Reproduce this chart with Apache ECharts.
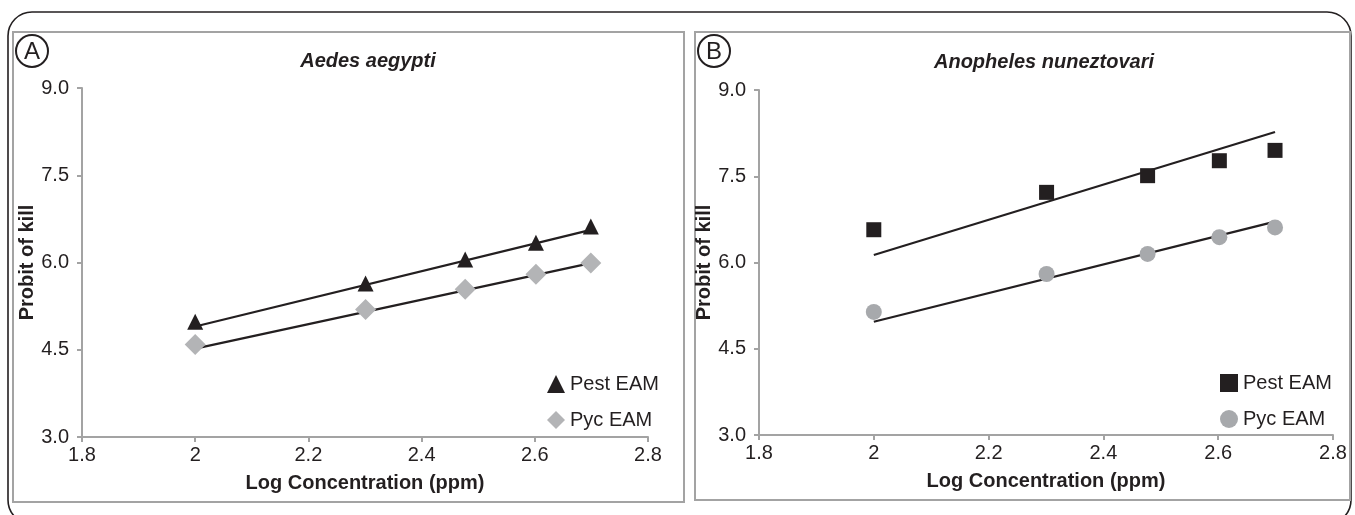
<!DOCTYPE html>
<html>
<head>
<meta charset="utf-8">
<script src="https://cdn.jsdelivr.net/npm/echarts@6/dist/echarts.min.js"></script>
<style>
  html, body { margin: 0; padding: 0; background: #fff; }
  #main { width: 1355px; height: 515px; }
</style>
</head>
<body>
<div id="main"></div>
<script>
// log10 of the tested concentrations (ppm)
var logConc = [2.0, 2.301, 2.477, 2.602, 2.699];

// panel A - Aedes aegypti
var aedesPest = [4.98, 5.64, 6.05, 6.34, 6.62];
var aedesPyc = [4.59, 5.19, 5.54, 5.80, 5.99];
// panel B - Anopheles nuneztovari
var anophPest = [6.57, 7.22, 7.51, 7.77, 7.95];
var anophPyc = [5.14, 5.80, 6.15, 6.44, 6.61];

// trend line end points
var fitX = [2.0, 2.699];
var aedesPestFit = [4.90, 6.56];
var aedesPycFit = [4.52, 5.99];
var anophPestFit = [6.13, 8.27];
var anophPycFit = [4.97, 6.71];

var xTicks = { min: 1.8, max: 2.8, interval: 0.2 };
var yTicks = { min: 3.0, max: 9.0, interval: 1.5 };

var FONT = '"Liberation Sans", Arial, Helvetica, sans-serif';
var INK = '#231f20';
var AXIS = '#a3a3a3';

function pairs(xs, ys) {
    return xs.map(function (x, i) { return [x, ys[i]]; });
}

function xAxis(idx) {
    return {
        type: 'value', gridIndex: idx,
        min: xTicks.min, max: xTicks.max, interval: xTicks.interval,
        name: 'Log Concentration (ppm)', nameLocation: 'middle', nameGap: 36,
        nameTextStyle: { fontFamily: FONT, fontSize: 20, fontWeight: 'bold', color: INK },
        axisLine: { show: true, onZero: false, lineStyle: { color: AXIS, width: 2 } },
        axisTick: { show: true, length: 5, lineStyle: { color: AXIS, width: 2 } },
        axisLabel: {
            margin: 8, fontFamily: FONT, fontSize: 20, color: INK,
            formatter: function (v) { return String(parseFloat(v.toFixed(1))); }
        },
        splitLine: { show: false }
    };
}

function yAxis(idx) {
    return {
        type: 'value', gridIndex: idx,
        min: yTicks.min, max: yTicks.max, interval: yTicks.interval,
        name: 'Probit of kill', nameLocation: 'middle', nameGap: 37,
        nameTextStyle: { fontFamily: FONT, fontSize: 20, fontWeight: 'bold', color: INK },
        axisLine: { show: true, onZero: false, lineStyle: { color: AXIS, width: 2 } },
        axisTick: { show: true, length: 5, lineStyle: { color: AXIS, width: 2 } },
        axisLabel: {
            margin: 13, fontFamily: FONT, fontSize: 20, color: INK,
            formatter: function (v) { return v.toFixed(1); }
        },
        splitLine: { show: false }
    };
}

function scatter(name, idx, data, symbol, size, color) {
    return {
        name: name, type: 'scatter', xAxisIndex: idx, yAxisIndex: idx,
        data: pairs(logConc, data), symbol: symbol, symbolSize: size,
        itemStyle: { color: color, opacity: 1 }, z: 3
    };
}

function fit(idx, ys) {
    return {
        type: 'line', xAxisIndex: idx, yAxisIndex: idx,
        data: pairs(fitX, ys), symbol: 'none', silent: true,
        lineStyle: { color: INK, width: 2.2 }, z: 2
    };
}

function legend(left, top, names) {
    return {
        data: names, orient: 'vertical', left: left, top: top,
        itemWidth: 18, itemHeight: 18, itemGap: 16,
        textStyle: { fontFamily: FONT, fontSize: 20, color: INK },
        formatter: function (n) { return n.split(':')[1]; }
    };
}

function circled(letter, cx, cy) {
    return [
        { type: 'circle', shape: { cx: cx, cy: cy, r: 16 },
          style: { fill: 'none', stroke: INK, lineWidth: 2 } },
        { type: 'text', x: cx, y: cy + 1,
          style: { text: letter, align: 'center', verticalAlign: 'middle',
                   font: '24px ' + FONT, fill: INK } }
    ];
}

var chart = echarts.init(document.getElementById('main'));

var options = {
    animation: false,
    backgroundColor: '#fff',
    grid: [
        { left: 82, top: 88, width: 566, height: 349 },
        { left: 759, top: 90, width: 574, height: 345 }
    ],
    xAxis: [xAxis(0), xAxis(1)],
    yAxis: [yAxis(0), yAxis(1)],
    legend: [
        legend(542, 369, ['A:Pest EAM', 'A:Pyc EAM']),
        legend(1215, 368, ['B:Pest EAM', 'B:Pyc EAM'])
    ],
    series: [
        fit(0, aedesPestFit),
        fit(0, aedesPycFit),
        scatter('A:Pest EAM', 0, aedesPest, 'triangle', 16, INK),
        scatter('A:Pyc EAM', 0, aedesPyc, 'diamond', 21, '#b3b4b6'),
        fit(1, anophPestFit),
        fit(1, anophPycFit),
        scatter('B:Pest EAM', 1, anophPest, 'rect', 15, INK),
        scatter('B:Pyc EAM', 1, anophPyc, 'circle', 16, '#a7a9ac')
    ],
    graphic: [
        // outer frame, bottom edge runs off the picture
        { type: 'rect', shape: { x: 8, y: 12, width: 1343, height: 512, r: 24 },
          style: { fill: 'none', stroke: INK, lineWidth: 1.6 }, z: -10 },
        // panel boxes
        { type: 'rect', shape: { x: 13, y: 32, width: 671, height: 470 },
          style: { fill: 'none', stroke: AXIS, lineWidth: 2 }, z: -9 },
        { type: 'rect', shape: { x: 695, y: 32, width: 655, height: 468 },
          style: { fill: 'none', stroke: AXIS, lineWidth: 2 }, z: -9 },
        { type: 'text', x: 368, y: 61,
          style: { text: 'Aedes aegypti', align: 'center', verticalAlign: 'middle',
                   font: 'italic bold 20px ' + FONT, fill: INK } },
        { type: 'text', x: 1044, y: 62,
          style: { text: 'Anopheles nuneztovari', align: 'center', verticalAlign: 'middle',
                   font: 'italic bold 20px ' + FONT, fill: INK } }
    ].concat(circled('A', 32, 51), circled('B', 714, 51))
};

chart.setOption(options);
</script>
</body>
</html>
